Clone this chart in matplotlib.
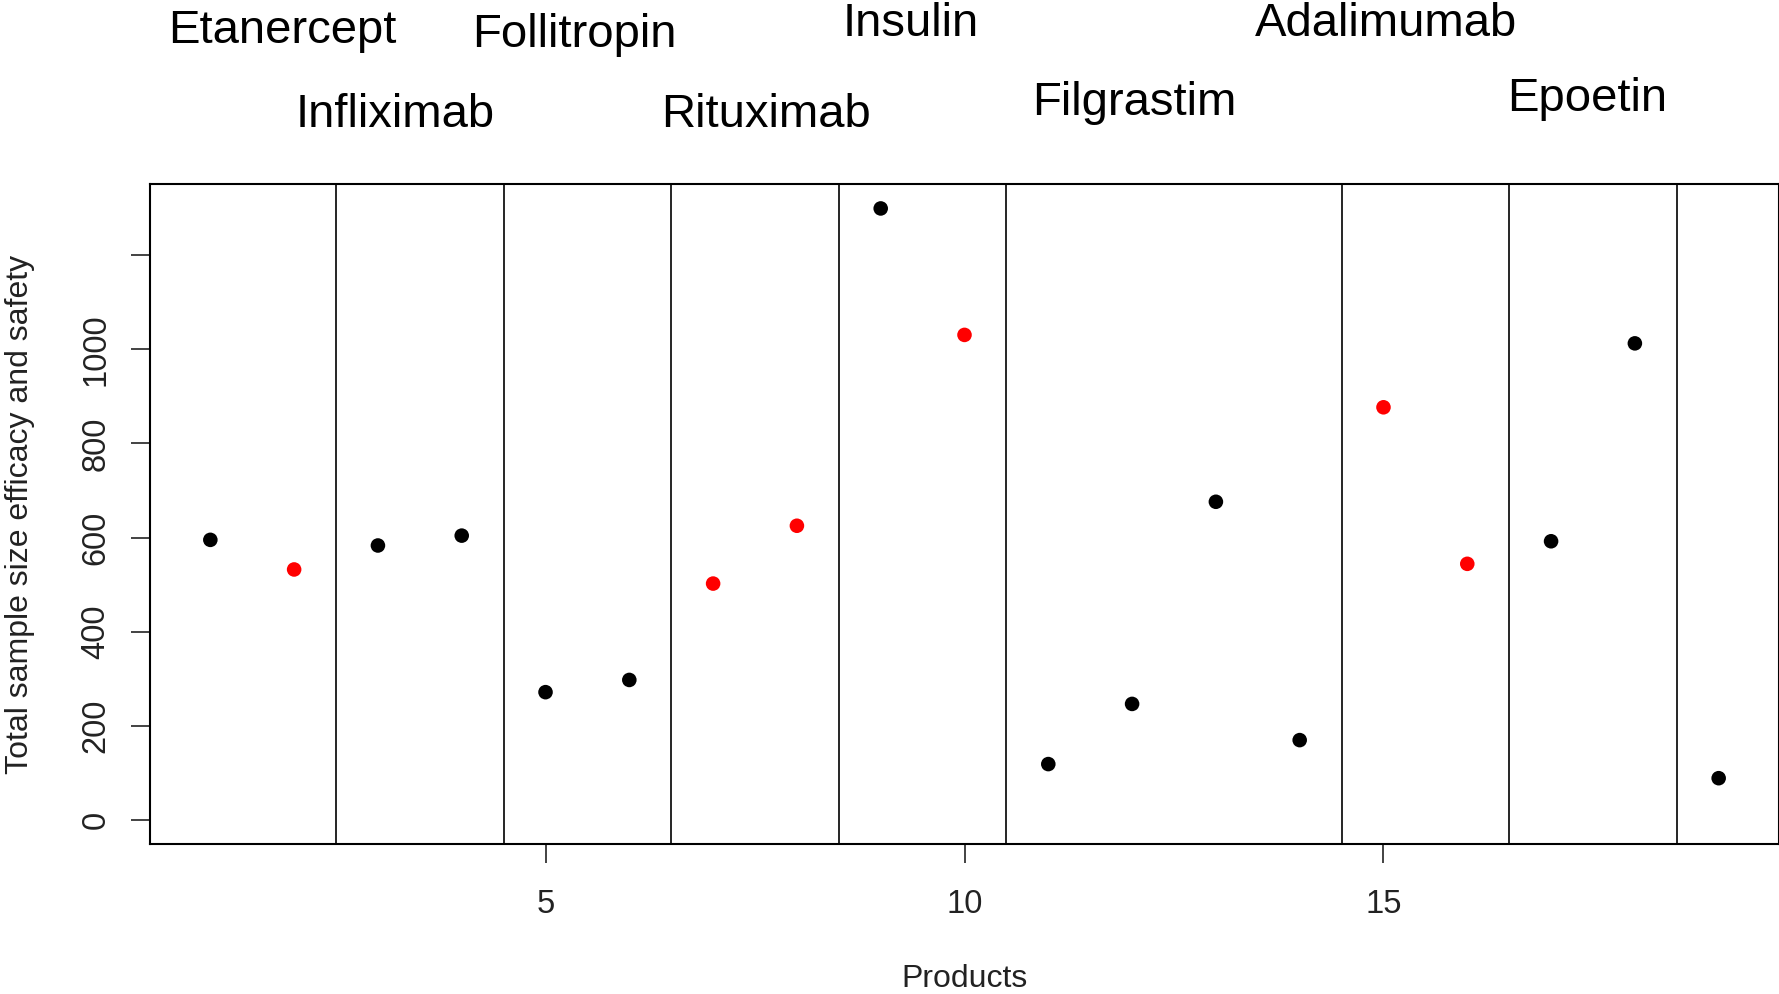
import matplotlib.pyplot as plt
import numpy as np

plt.rcParams['font.family'] = ['Liberation Sans', 'DejaVu Sans']

# data
products = np.arange(1, 20)
sample_size = [595, 532, 583, 604, 271, 297, 502, 625, 1300, 1031,
               118, 246, 676, 169, 877, 544, 592, 1013, 88]
red_products = [2, 7, 8, 10, 15, 16]
group_breaks = [2.5, 4.5, 6.5, 8.5, 10.5, 14.5, 16.5, 18.5]
group_names = ["Etanercept", "Infliximab", "Follitropin", "Rituximab",
               "Insulin", "Filgrastim", "Adalimumab", "Epoetin"]

# where the product names sit above the box (x in data, y in axes fraction)
name_x = [1.86, 3.21, 5.34, 7.63, 9.36, 12.03, 15.03, 17.43]
name_y = [1.213, 1.087, 1.207, 1.087, 1.224, 1.105, 1.224, 1.110]

fig = plt.figure(figsize=(17.79, 9.94), dpi=100)
ax = fig.add_axes([150 / 1779, 150 / 994, 1629 / 1779, 660 / 994])

colors = ['red' if p in red_products else 'black' for p in products]
ax.scatter(products, sample_size, c=colors, s=110, zorder=3, linewidths=0)

for b in group_breaks:
    ax.axvline(b, color='black', lw=1.2)

for name, x, y in zip(group_names, name_x, name_y):
    ax.text(x, y, name, transform=ax.get_xaxis_transform(), ha='center',
            va='baseline', fontsize=34, clip_on=False)

ax.set_xlim(0.28, 19.72)
ax.set_ylim(-52, 1352)
ax.set_xticks([5, 10, 15])
ax.set_yticks(range(0, 1201, 200))
ax.set_yticklabels([str(v) for v in range(0, 1001, 200)] + [''],
                   rotation=90, va='center')

ax.tick_params(length=13.7, width=1.2, labelsize=23.5, colors='#222222')
ax.tick_params(axis='x', pad=19)
ax.tick_params(axis='y', pad=14)
for s in ax.spines.values():
    s.set_linewidth(1.5)

ax.set_xlabel("Products", fontsize=23, color='#222222')
ax.set_ylabel("Total sample size efficacy and safety", fontsize=23, color='#222222')
ax.xaxis.label.set_va('center')
ax.yaxis.label.set_va('center')
ax.xaxis.set_label_coords(0.5, -0.204)
ax.yaxis.set_label_coords(-0.0801, 0.5)

fig.savefig("out.png", dpi=100)
